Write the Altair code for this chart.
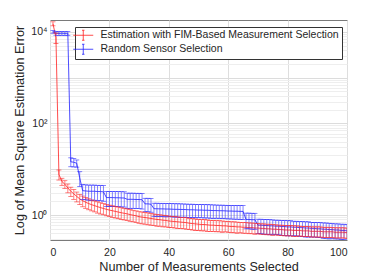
import altair as alt
import pandas as pd

FIM = "Estimation with FIM-Based Measurement Selection"
RND = "Random Sensor Selection"

x_vals = list(range(1, 101))

fim_mean = [15000, 7500, 7.7, 5.4, 4.7, 3.9, 3.3, 2.9, 2.55, 2.25,
            2.05, 1.9, 1.78, 1.68, 1.6, 1.52, 1.45, 1.39, 1.33, 1.28,
            1.24, 1.2, 1.16, 1.12, 1.09, 1.06, 1.02, 0.99, 0.96, 0.92,
            0.9, 0.88, 0.86, 0.84, 0.82, 0.8, 0.79, 0.77, 0.76, 0.74,
            0.73, 0.72, 0.71, 0.7, 0.69, 0.68, 0.66, 0.65, 0.64, 0.63,
            0.62, 0.62, 0.61, 0.6, 0.6, 0.59, 0.59, 0.58, 0.58, 0.57,
            0.56, 0.56, 0.55, 0.55, 0.54, 0.54, 0.53, 0.53, 0.52, 0.52,
            0.51, 0.51, 0.5, 0.5, 0.49, 0.49, 0.48, 0.48, 0.47, 0.47,
            0.47, 0.46, 0.46, 0.46, 0.45, 0.45, 0.45, 0.44, 0.44, 0.44,
            0.44, 0.43, 0.43, 0.43, 0.43, 0.42, 0.42, 0.42, 0.42, 0.41]

fim_err = [1500, 1900, 1.9, 0.95, 0.9, 0.85, 0.75, 0.7, 0.62, 0.56,
           0.54, 0.5, 0.48, 0.45, 0.43, 0.42, 0.4, 0.38, 0.37, 0.36,
           0.35, 0.34, 0.33, 0.32, 0.31, 0.3, 0.29, 0.28, 0.27, 0.26,
           0.26, 0.25, 0.25, 0.24, 0.23, 0.23, 0.22, 0.22, 0.21, 0.21,
           0.2, 0.2, 0.2, 0.19, 0.19, 0.19, 0.18, 0.18, 0.18, 0.17,
           0.17, 0.17, 0.17, 0.16, 0.16, 0.16, 0.16, 0.16, 0.15, 0.15,
           0.15, 0.15, 0.15, 0.14, 0.14, 0.14, 0.14, 0.14, 0.14, 0.13,
           0.13, 0.13, 0.13, 0.13, 0.13, 0.12, 0.12, 0.12, 0.12, 0.12,
           0.12, 0.12, 0.12, 0.11, 0.11, 0.11, 0.11, 0.11, 0.11, 0.11,
           0.11, 0.11, 0.11, 0.11, 0.105, 0.105, 0.105, 0.105, 0.105, 0.105]

rnd_mean = [10000, 9300, 9200, 9300, 9200, 9300, 14.5, 14.2, 13.5, 6.5,
            3.4, 3.35, 3.3, 3.3, 3.3, 3.25, 3.25, 3.2, 2.4, 2.4,
            2.4, 2.38, 2.38, 2.36, 2.35, 2.2, 2.2, 2.2, 2.18, 2.18,
            2.15, 1.75, 1.75, 1.72, 1.37, 1.37, 1.36, 1.36, 1.35, 1.35,
            1.34, 1.33, 1.33, 1.32, 1.32, 1.31, 1.3, 1.3, 1.29, 1.28,
            1.28, 1.27, 1.27, 1.26, 1.25, 1.25, 1.24, 1.24, 1.23, 1.22,
            1.22, 1.21, 1.21, 1.2, 1.2, 0.8, 0.8, 0.79, 0.79, 0.6,
            0.6, 0.59, 0.59, 0.58, 0.58, 0.57, 0.57, 0.56, 0.56, 0.55,
            0.55, 0.54, 0.54, 0.53, 0.53, 0.52, 0.52, 0.51, 0.51, 0.5,
            0.5, 0.49, 0.49, 0.48, 0.48, 0.47, 0.47, 0.46, 0.46, 0.45]

rnd_err = [700, 900, 900, 900, 900, 900, 3.2, 3.0, 2.4, 2.3,
           1.2, 1.2, 1.2, 1.2, 1.2, 1.2, 1.2, 1.2, 0.86, 0.86,
           0.86, 0.86, 0.86, 0.86, 0.86, 0.8, 0.8, 0.8, 0.8, 0.8,
           0.8, 0.57, 0.57, 0.57, 0.44, 0.44, 0.44, 0.44, 0.44, 0.43,
           0.43, 0.43, 0.43, 0.43, 0.42, 0.42, 0.42, 0.42, 0.42, 0.41,
           0.41, 0.41, 0.41, 0.41, 0.41, 0.4, 0.4, 0.4, 0.4, 0.4,
           0.4, 0.4, 0.4, 0.4, 0.4, 0.3, 0.3, 0.3, 0.3, 0.21,
           0.21, 0.21, 0.21, 0.21, 0.2, 0.2, 0.2, 0.2, 0.2, 0.2,
           0.2, 0.19, 0.19, 0.19, 0.19, 0.19, 0.19, 0.18, 0.18, 0.18,
           0.18, 0.18, 0.18, 0.18, 0.17, 0.17, 0.17, 0.17, 0.17, 0.17]

x_ticks = [0, 20, 40, 60, 80, 100]
y_ticks = [0.3, 0.4, 0.5, 0.6, 0.7, 0.8, 0.9,
           1, 2, 3, 4, 5, 6, 7, 8, 9,
           10, 20, 30, 40, 50, 60, 70, 80, 90,
           100, 200, 300, 400, 500, 600, 700, 800, 900,
           1000, 2000, 3000, 4000, 5000, 6000, 7000, 8000, 9000,
           10000]

rows = []
for name, m_list, e_list in [(RND, rnd_mean, rnd_err), (FIM, fim_mean, fim_err)]:
    for xv, m, e in zip(x_vals, m_list, e_list):
        rows.append({"x": xv, "series": name, "mean": m, "lo": m - e, "hi": m + e})
df = pd.DataFrame(rows)

FONT = "Liberation Sans"
TXT = "#262626"

xs = alt.Scale(domain=[0, 100], nice=False)
ys = alt.Scale(type="log", domain=[0.2846, 18100], nice=False)
cs = alt.Scale(domain=[FIM, RND], range=["#ff2020", "#2020ff"])

x_axis = alt.Axis(values=x_ticks, title="Number of Measurements Selected",
                  titleFontSize=12.7, titleFont=FONT, titleFontWeight="normal",
                  titleColor=TXT, titlePadding=3,
                  labelFontSize=10.5, labelFont=FONT, labelColor=TXT,
                  labelPadding=7, tickSize=0, domain=False,
                  grid=True, gridColor="#dedede", gridWidth=1)

major_test = "abs(log(datum.value)/LN10 - round(log(datum.value)/LN10)) < 0.000001"
y_axis = alt.Axis(values=y_ticks, title="Log of Mean Square Estimation Error",
                  titleFontSize=12.7, titleFont=FONT, titleFontWeight="normal",
                  titleColor=TXT, titlePadding=4,
                  labelFontSize=10.5, labelFont=FONT, labelColor=TXT,
                  labelPadding=3, tickSize=0, domain=False,
                  labelExpr="datum.value == 1 ? '10\u2070' : datum.value == 100 ? '10\u00b2' : datum.value == 10000 ? '10\u2074' : ''",
                  grid=True,
                  gridColor={"condition": {"test": major_test, "value": "#dcdcdc"}, "value": "#eeeeee"},
                  gridWidth=1)

legend = alt.Legend(orient="none", legendX=25, legendY=7, title=None,
                    symbolType="M-2.5,0H2.5M0,-1.25V1.25M-0.31,-1.25H0.31M-0.31,1.25H0.31",
                    symbolSize=64, symbolStrokeWidth=0.8, symbolFillColor="transparent",
                    labelFont=FONT, labelFontSize=10.5, labelColor=TXT,
                    labelOffset=12, padding=3, rowPadding=0,
                    strokeColor="#333333", fillColor="white", labelLimit=400)

base = alt.Chart(df)
X = alt.X("x:Q", scale=xs, axis=x_axis)
col_leg = alt.Color("series:N", scale=cs, legend=legend)
col = alt.Color("series:N", scale=cs, legend=None)

line = base.mark_line(strokeWidth=0.8, clip=True).encode(
    x=X, y=alt.Y("mean:Q", scale=ys, axis=y_axis), color=col_leg,
    order="x:Q")
bars = base.mark_rule(strokeWidth=0.7, clip=True, opacity=0.8).encode(
    x="x:Q", y="lo:Q", y2="hi:Q", color=col)
cap_lo = base.mark_tick(orient="horizontal", size=5, thickness=0.7, clip=True, opacity=0.8).encode(
    x="x:Q", y="lo:Q", color=col)
cap_hi = base.mark_tick(orient="horizontal", size=5, thickness=0.7, clip=True, opacity=0.8).encode(
    x="x:Q", y="hi:Q", color=col)

chart = alt.layer(line, bars, cap_lo, cap_hi).properties(
    width=297, height=220,
    autosize=alt.AutoSizeParams(type="none"),
    padding={"left": 42, "top": 12, "right": 20, "bottom": 35},
    background="white",
).configure_view(stroke="#7a7a7a", strokeWidth=1)

chart.save("out.html", embed_options={"renderer": "svg", "actions": False})
